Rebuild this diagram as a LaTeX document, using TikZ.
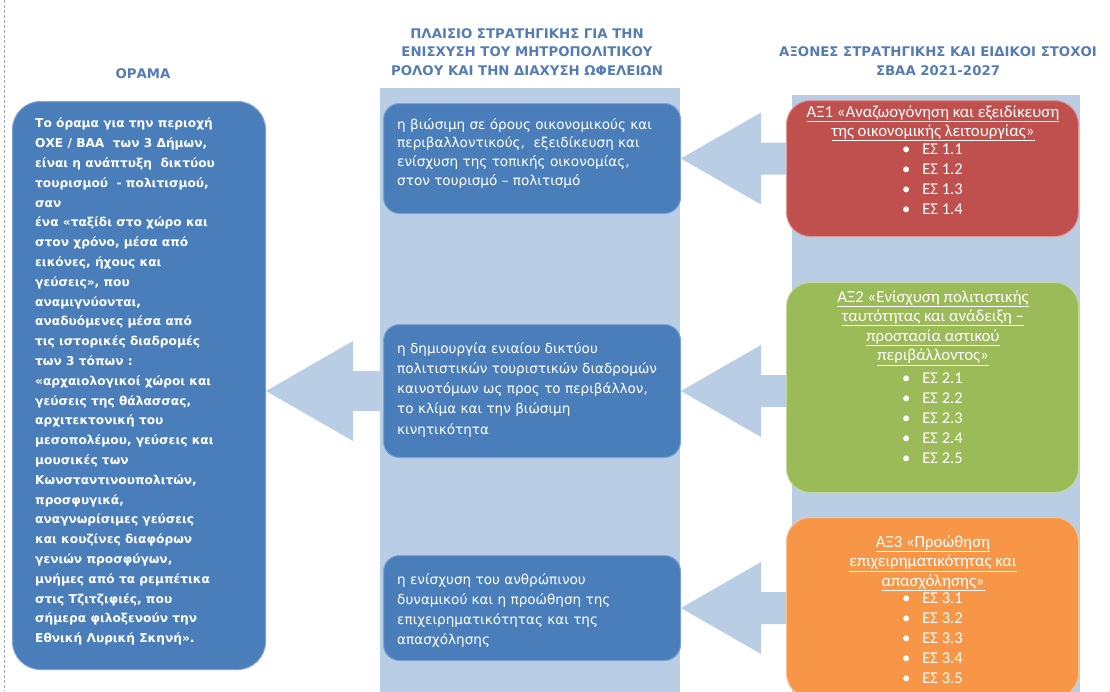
\documentclass[tikz,border=0pt]{standalone}
\usepackage{fontspec}
\setmainfont{DejaVu Sans}
\newfontfamily\cbfont{Carlito}
\usetikzlibrary{calc}
\definecolor{dblue}{RGB}{74,126,187}
\definecolor{dbluee}{RGB}{125,163,212}
\definecolor{lblue}{RGB}{185,205,229}
\definecolor{hblue}{RGB}{86,124,180}
\definecolor{axred}{RGB}{192,80,77}
\definecolor{axgreen}{RGB}{155,187,89}
\definecolor{axorange}{RGB}{247,150,70}
\tikzset{
  hdr/.style={font=\bfseries\fontsize{13.3}{18.8}\selectfont, text=hblue, align=center, inner sep=0pt},
  panel/.style={anchor=north west, inner sep=0pt, minimum width=#1},
  bluebox/.style={fill=dblue, draw=dbluee, line width=1pt, rounded corners=#1, anchor=north west, inner sep=0pt},
  axbox/.style={fill=#1, draw=#1!60!white, line width=1pt, rounded corners=24pt, anchor=north west, inner sep=0pt, minimum width=292pt},
  ltext/.style={font=\bfseries\fontsize{12.2}{19.8}\selectfont, text=white, align=left, anchor=north west, inner sep=0pt},
  mtext/.style={font=\fontsize{13.6}{#1}\selectfont, text=white, align=left, anchor=north west, inner sep=0pt},
  rtitle/.style={font=\cbfont\fontsize{16.8}{19.5}\selectfont, text=white, align=center, anchor=north, inner sep=0pt},
  rbul/.style={font=\cbfont\fontsize{16.5}{20}\selectfont, text=white, align=left, anchor=north west, inner sep=0pt},
  arrowfill/.style={fill=lblue},
}
% block arrow pointing left: tip, tail, head length, head half-height, shaft half-height
\newcommand\leftblockarrow[5]{%
  \fill[arrowfill] let \p1=(#1), \p2=(#2) in
    (\x1,\y1) -- (\x1+#3pt,\y1+#4pt) -- (\x1+#3pt,\y1+#5pt) -- (\x2,\y1+#5pt)
    -- (\x2,\y1-#5pt) -- (\x1+#3pt,\y1-#5pt) -- (\x1+#3pt,\y1-#4pt) -- cycle;}
\newcommand\bl[1]{\textbullet\hspace{12pt}#1}
\begin{document}
\begin{tikzpicture}[x=1pt,y=-1pt]
\useasboundingbox (0,0) rectangle (1110,691);
% dashed margin line
\coordinate (d1) at (4,0);
\coordinate (d2) at (4,691);
\draw[gray!70, line width=0.8pt, dash pattern=on 3pt off 2pt] (d1) -- (d2);

% headers
\node[hdr] (h1) at (143,74) {ΟΡΑΜΑ};
\node[hdr] (h2) at (527,52) {ΠΛΑΙΣΙΟ ΣΤΡΑΤΗΓΙΚΗΣ ΓΙΑ ΤΗΝ\\ΕΝΙΣΧΥΣΗ ΤΟΥ ΜΗΤΡΟΠΟΛΙΤΙΚΟΥ\\ΡΟΛΟΥ ΚΑΙ ΤΗΝ ΔΙΑΧΥΣΗ ΩΦΕΛΕΙΩΝ};
\node[hdr] (h3) at (938,61) {ΑΞΟΝΕΣ ΣΤΡΑΤΗΓΙΚΗΣ ΚΑΙ ΕΙΔΙΚΟΙ ΣΤΟΧΟΙ\\ΣΒΑΑ 2021-2027};

% background columns
\node[panel=300pt, fill=lblue, minimum height=604pt] (mcol) at (380,88) {};
\node[panel=288pt, fill=lblue, minimum height=600pt] (rcol) at (792,95) {};

% left vision box
\node[bluebox=28pt, minimum width=253pt, minimum height=568pt] (L) at (12,101) {};

% middle boxes
\node[bluebox=16pt, minimum width=297pt, minimum height=110pt] (M1) at (383,103) {};
\node[bluebox=16pt, minimum width=297pt, minimum height=133pt] (M2) at (383,324) {};
\node[bluebox=16pt, minimum width=297pt, minimum height=105pt] (M3) at (383,555) {};

% right axis boxes
\node[axbox=axred, minimum height=136pt] (R1) at (786,100) {};
\node[axbox=axgreen, minimum height=210pt] (R2) at (786,282) {};
\node[axbox=axorange, minimum height=180pt] (R3) at (786,517) {};

% arrows
\leftblockarrow{L.east |- M2.west}{M2.west}{87}{50}{20}
\leftblockarrow{M1.east}{R1.west}{80}{46}{16}
\leftblockarrow{M2.east}{R2.west |- M2.east}{80}{46}{16}
\leftblockarrow{M3.east}{R3.west |- M3.east}{80}{46}{16}

% texts
\node[ltext] (Lt) at (35,118) {Το όραμα για την περιοχή\\
ΟΧΕ / ΒΑΑ \ των 3 Δήμων,\\
είναι η ανάπτυξη \ δικτύου\\
τουρισμού \ - πολιτισμού,\\
σαν\\
ένα «ταξίδι στο χώρο και\\
στον χρόνο, μέσα από\\
εικόνες, ήχους και\\
γεύσεις», που\\
αναμιγνύονται,\\
αναδυόμενες μέσα από\\
τις ιστορικές διαδρομές\\
των 3 τόπων :\\
«αρχαιολογικοί χώροι και\\
γεύσεις της θάλασσας,\\
αρχιτεκτονική του\\
μεσοπολέμου, γεύσεις και\\
μουσικές των\\
Κωνσταντινουπολιτών,\\
προσφυγικά,\\
αναγνωρίσιμες γεύσεις\\
και κουζίνες διαφόρων\\
γενιών προσφύγων,\\
μνήμες από τα ρεμπέτικα\\
στις Τζιτζιφιές, που\\
σήμερα φιλοξενούν την\\
Εθνική Λυρική Σκηνή».};

\node[mtext=18.8] (M1t) at (397,118) {η βιώσιμη σε όρους οικονομικούς και\\
περιβαλλοντικούς, \ εξειδίκευση και\\
ενίσχυση της τοπικής οικονομίας,\\
στον τουρισμό – πολιτισμό};
\node[mtext=20.3] (M2t) at (397,342) {η δημιουργία ενιαίου δικτύου\\
πολιτιστικών τουριστικών διαδρομών\\
καινοτόμων ως προς το περιβάλλον,\\
το κλίμα και την βιώσιμη\\
κινητικότητα};
\node[mtext=20.2] (M3t) at (397,573) {η ενίσχυση του ανθρώπινου\\
δυναμικού και η προώθηση της\\
επιχειρηματικότητας και της\\
απασχόλησης};

\node[rtitle] (R1t) at (933,105) {\underline{ΑΞ1 «Αναζωογόνηση και εξειδίκευση}\\\underline{της οικονομικής λειτουργίας»}};
\node[rbul] (R1b) at (902,144) {\bl{ΕΣ 1.1}\\\bl{ΕΣ 1.2}\\\bl{ΕΣ 1.3}\\\bl{ΕΣ 1.4}};

\node[rtitle] (R2t) at (933,290) {\underline{ΑΞ2 «Ενίσχυση πολιτιστικής}\\\underline{ταυτότητας και ανάδειξη –}\\\underline{προστασία αστικού}\\\underline{περιβάλλοντος»}};
\node[rbul] (R2b) at (902,373) {\bl{ΕΣ 2.1}\\\bl{ΕΣ 2.2}\\\bl{ΕΣ 2.3}\\\bl{ΕΣ 2.4}\\\bl{ΕΣ 2.5}};

\node[rtitle] (R3t) at (933,535) {\underline{ΑΞ3 «Προώθηση}\\\underline{επιχειρηματικότητας και}\\\underline{απασχόλησης»}};
\node[rbul] (R3b) at (902,593) {\bl{ΕΣ 3.1}\\\bl{ΕΣ 3.2}\\\bl{ΕΣ 3.3}\\\bl{ΕΣ 3.4}\\\bl{ΕΣ 3.5}};
\end{tikzpicture}
\end{document}
